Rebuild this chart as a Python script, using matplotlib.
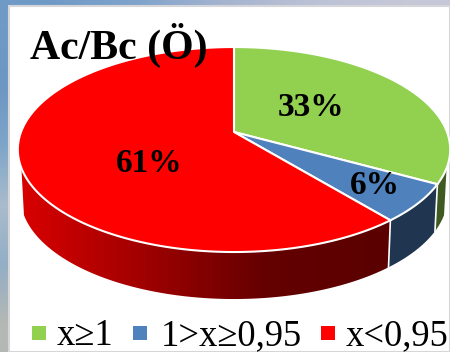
import numpy as np
import matplotlib
matplotlib.use('Agg')
import matplotlib.pyplot as plt
from matplotlib.colors import LinearSegmentedColormap, to_rgb
from matplotlib.patches import Polygon, Rectangle

# share of each class, clockwise from twelve o'clock
labels = ['x≥1', '1>x≥0,95', 'x<0,95']
values = [33, 6, 61]
pct_text = ['33%', '6%', '61%']
top_colors = ['#92d050', '#4f81bd', '#ff0000']
side_colors = ['#3f5a20', '#1f3550', None]

# backdrop colours behind the white panel
strip_top = ['#6f9ac6', '#7fa3cb', '#a5b4cf', '#bcc2d6', '#c6c8d8']
strip_left = ['#6f9ac6', '#6d97c3', '#7fa6c9', '#a9bccb', '#93aec6', '#b4b8b4']

CX, CY = 234, 132
RX, RY, K = 213, 99.5, 0.171
DEPTH = 47
WALL_FROM, WALL_TO = np.radians(110), np.radians(250)


def project(theta):
    # tilted disc, near edge drawn larger than the far edge
    u, v = np.sin(theta), np.cos(theta)
    d = 1 + K * v
    return CX + RX * u / d, CY - RY * v / d


def lower(x, y):
    return CX + (x - CX) * 0.988, y + DEPTH


fig = plt.figure(figsize=(4.5, 3.52), dpi=100)
ax = fig.add_axes([0, 0, 1, 1])

left = np.array([to_rgb(c) for c in strip_left])[:, None, :]
top = np.array([to_rgb(c) for c in strip_top])[None, :, :]
ax.imshow(left, extent=(0, 10, 352, 0), aspect='auto', interpolation='bilinear', zorder=0)
ax.imshow(top, extent=(0, 450, 7, 0), aspect='auto', interpolation='bilinear', zorder=0)
ax.add_patch(Rectangle((9, 6), 441, 346, fc='white', ec='#d5d5da', lw=1.5, zorder=1))

edges = np.cumsum([0] + values) / sum(values) * 2 * np.pi
red_side = LinearSegmentedColormap.from_list('side', ['#d80000', '#a00000', '#640000', '#5a0000'])
ramp = np.linspace(0, 1, 256)[None, :]

# outer wall, only the part facing the viewer
for i in range(3):
    a, b = max(edges[i], WALL_FROM), min(edges[i + 1], WALL_TO)
    if b <= a:
        continue
    th = np.linspace(a, b, 120)
    x, y = project(th)
    xb, yb = lower(x, y)
    pts = np.r_[np.c_[x, y], np.c_[xb, yb][::-1]]
    if side_colors[i]:
        ax.add_patch(Polygon(pts, fc=side_colors[i], ec='none', zorder=2))
    else:
        wall = Polygon(pts, fc='none', ec='none', zorder=2)
        ax.add_patch(wall)
        im = ax.imshow(ramp, extent=(x.min(), x.max(), 352, 0), aspect='auto',
                       cmap=red_side, origin='upper', zorder=2)
        im.set_clip_path(wall)

# white seams where the wedges meet on the wall
for t in edges[1:3]:
    px, py = project(t)
    qx, qy = lower(px, py)
    ax.plot([px, qx], [py, qy], color='white', lw=1.2, zorder=3)

# top faces
for i in range(3):
    th = np.linspace(edges[i], edges[i + 1], 200)
    x, y = project(th)
    pts = np.r_[[(CX, CY)], np.c_[x, y]]
    ax.add_patch(Polygon(pts, fc=top_colors[i], ec='white', lw=1.5, joinstyle='round', zorder=4))

pct_pos = [(311, 108), (375, 185), (149, 164)]
for s, (px, py) in zip(pct_text, pct_pos):
    ax.text(px, py, s, family='Liberation Serif', weight='bold', fontsize=24,
            ha='center', va='center', color='black', zorder=6)

ax.text(30, 59, 'Ac/Bc (Ö)', family='Liberation Serif', weight='bold', fontsize=30.2,
        ha='left', va='baseline', color='black', zorder=6)

# legend row
box_x = [32, 133, 321]
text_x = [57, 161, 346]
for name, color, bx, tx in zip(labels, top_colors, box_x, text_x):
    ax.add_patch(Rectangle((bx, 326), 14, 14, fc=color, ec='none', zorder=5))
    ax.text(tx, 345, name, family='Liberation Serif', fontsize=26.3, ha='left',
            va='baseline', color='black', zorder=6)

ax.set_xlim(0, 450)
ax.set_ylim(352, 0)
ax.axis('off')
fig.savefig('out.png', dpi=100)
